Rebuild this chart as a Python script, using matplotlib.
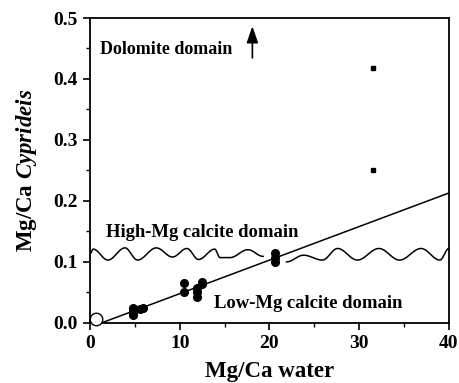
import numpy as np
import matplotlib.pyplot as plt

plt.rcParams['font.family'] = 'Liberation Serif'
plt.rcParams['font.weight'] = 'bold'
plt.rcParams['axes.labelweight'] = 'bold'
plt.rcParams['mathtext.fontset'] = 'custom'
plt.rcParams['mathtext.it'] = 'Liberation Serif:italic:bold'
plt.rcParams['mathtext.rm'] = 'Liberation Serif:bold'

# Mg/Ca of water vs Mg/Ca of Cyprideis valves
water = [4.8, 4.8, 4.8, 4.8, 5.6, 5.9, 10.5, 10.5, 11.9, 11.9, 11.9, 12.5, 12.5, 20.6, 20.6, 20.6]
shell = [0.013, 0.018, 0.022, 0.025, 0.022, 0.024, 0.065, 0.050, 0.057, 0.050, 0.043, 0.067, 0.063, 0.115, 0.107, 0.100]

# dolomite samples
dol_water = [31.5, 31.5]
dol_shell = [0.418, 0.251]

# open circle near the origin
ref_water = [0.67]
ref_shell = [0.007]

# regression line end points
fit_x = [1.3, 40.0]
fit_y = [0.0, 0.213]

# wavy boundary between low- and high-Mg calcite (turning points)
wave1_x = [0.0, 0.35, 2.0, 3.9, 5.3, 7.4, 9.2, 10.8, 12.1, 13.9, 14.5, 15.6, 17.6, 19.3]
wave1_y = [0.113, 0.121, 0.103, 0.123, 0.103, 0.123, 0.108, 0.122, 0.104, 0.121, 0.107, 0.107, 0.120, 0.109]
wave2_x = [21.9, 23.8, 25.9, 27.6, 29.8, 32.2, 34.5, 36.9, 39.0, 40.0]
wave2_y = [0.100, 0.111, 0.103, 0.122, 0.103, 0.122, 0.103, 0.122, 0.103, 0.122]


def smooth(xs, ys, n=20):
    # cosine easing between successive turning points
    ox, oy = [], []
    for i in range(len(xs) - 1):
        t = np.linspace(0, 1, n, endpoint=False)
        s = (1 - np.cos(np.pi * t)) / 2
        ox.extend(xs[i] + (xs[i + 1] - xs[i]) * t)
        oy.extend(ys[i] + (ys[i + 1] - ys[i]) * s)
    ox.append(xs[-1])
    oy.append(ys[-1])
    return ox, oy


fig = plt.figure(figsize=(4.59, 3.83), dpi=100)
ax = fig.add_axes([0.196, 0.157, 0.782, 0.796])

ax.plot(fit_x, fit_y, color='black', lw=1.1)
for wx, wy in [(wave1_x, wave1_y), (wave2_x, wave2_y)]:
    sx, sy = smooth(wx, wy)
    ax.plot(sx, sy, color='black', lw=1.1)

ax.plot(water, shell, 'o', color='black', ms=5.5, clip_on=False)
ax.plot(dol_water, dol_shell, 's', color='black', ms=3)
ax.plot(ref_water, ref_shell, 'o', mfc='white', mec='black', ms=9, mew=1.0, clip_on=False, zorder=5)

ax.annotate('', xy=(18.1, 0.491), xytext=(18.1, 0.43),
            arrowprops=dict(arrowstyle='-|>,head_width=0.35,head_length=1.0', color='black', lw=1.2))

ax.text(1.1, 0.449, 'Dolomite domain', fontsize=13, va='center')
ax.text(1.8, 0.149, 'High-Mg calcite domain', fontsize=13.4, va='center')
ax.text(13.8, 0.032, 'Low-Mg calcite domain', fontsize=13.4, va='center')

ax.set_xlim(0, 40)
ax.set_ylim(0, 0.5)
ax.set_xticks([0, 10, 20, 30, 40])
ax.set_xticks([5, 15, 25, 35], minor=True)
ax.set_yticks([0.0, 0.1, 0.2, 0.3, 0.4, 0.5])
ax.set_yticks([0.05, 0.15, 0.25, 0.35, 0.45], minor=True)
ax.set_yticklabels(['0.0', '0.1', '0.2', '0.3', '0.4', '0.5'])
ax.tick_params(which='major', direction='out', length=5, width=1.2, labelsize=14, pad=4)
ax.tick_params(which='minor', direction='out', length=3, width=1.0)
for lab in ax.get_xticklabels() + ax.get_yticklabels():
    lab.set_fontweight('bold')
for sp in ax.spines.values():
    sp.set_linewidth(1.3)

ax.set_xlabel('Mg/Ca water', fontsize=16.5, fontweight='bold', labelpad=6)
ax.set_ylabel('Mg/Ca $Cyprideis$', fontsize=16.5, fontweight='bold', labelpad=10)

fig.savefig('out.png', dpi=100)
